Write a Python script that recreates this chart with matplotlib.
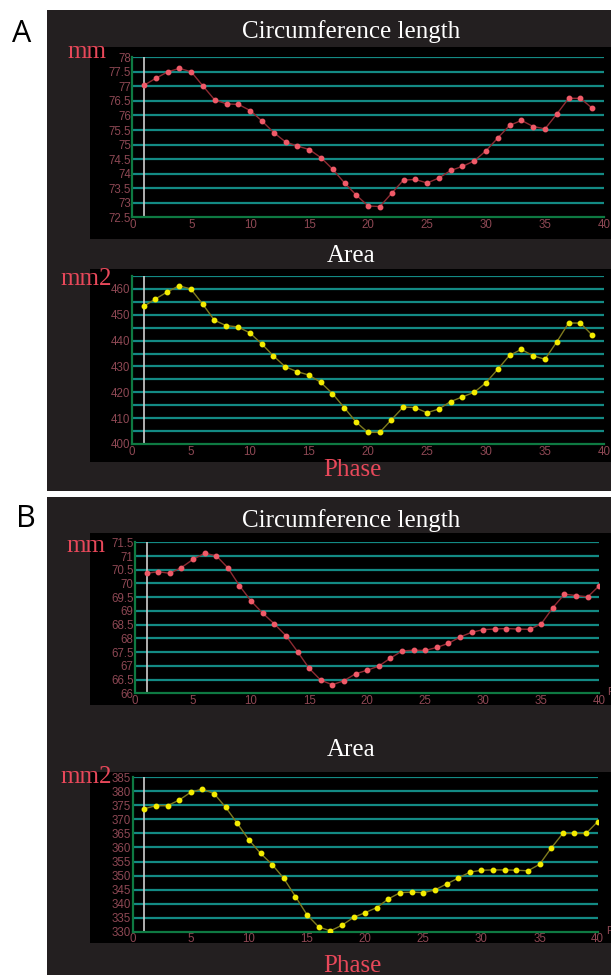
import matplotlib
matplotlib.use("Agg")
import matplotlib.pyplot as plt
from matplotlib.patches import Rectangle
import numpy as np

# ---------------- data ----------------
phase_A = list(range(1, 40))
circ_A = [77.04, 77.28, 77.50, 77.62, 77.50, 77.01, 76.53, 76.40, 76.38, 76.17,
          75.81, 75.41, 75.09, 74.95, 74.83, 74.55, 74.15, 73.68, 73.26, 72.89,
          72.87, 73.33, 73.78, 73.80, 73.68, 73.85, 74.11, 74.25, 74.44, 74.79,
          75.23, 75.66, 75.83, 75.62, 75.54, 76.05, 76.59, 76.59, 76.25]
area_A = [453.2, 456.1, 458.8, 461.2, 460.0, 454.2, 447.9, 445.8, 445.3, 443.0,
          438.8, 434.1, 429.9, 428.0, 426.7, 423.9, 419.5, 414.1, 408.5, 404.5,
          404.5, 409.4, 414.3, 414.1, 412.1, 413.5, 416.4, 418.2, 420.0, 423.7,
          428.9, 434.3, 436.6, 434.1, 432.8, 439.5, 446.8, 446.8, 442.1]

phase_B = list(range(1, 41))
circ_B = [70.37, 70.43, 70.37, 70.58, 70.88, 71.10, 71.01, 70.57, 69.92, 69.36,
          68.92, 68.53, 68.10, 67.52, 66.91, 66.48, 66.31, 66.46, 66.71, 66.84,
          66.99, 67.28, 67.54, 67.57, 67.56, 67.67, 67.82, 68.05, 68.22, 68.32,
          68.34, 68.36, 68.34, 68.33, 68.53, 69.12, 69.61, 69.56, 69.51, 69.92]
area_B = [373.8, 374.9, 374.9, 376.9, 379.7, 380.8, 379.2, 374.3, 368.6, 362.7,
          357.9, 353.9, 349.0, 342.5, 336.0, 331.7, 330.3, 332.3, 335.1, 336.8,
          338.6, 341.7, 343.9, 344.1, 343.9, 344.9, 347.0, 349.1, 351.2, 351.9,
          352.0, 352.0, 351.9, 351.7, 354.0, 359.8, 365.0, 365.0, 365.0, 369.2]

x_ticks = [0, 5, 10, 15, 20, 25, 30, 35, 40]
x_ticklabels = ["0", "5", "10", "15", "20", "25", "30", "35", "40"]

circA_yticks = [72.5, 73, 73.5, 74, 74.5, 75, 75.5, 76, 76.5, 77, 77.5, 78]
circA_ylabels = ["72.5", "73", "73.5", "74", "74.5", "75", "75.5", "76", "76.5", "77", "77.5", "78"]
areaA_yticks = [400, 410, 420, 430, 440, 450, 460]
areaA_ylabels = ["400", "410", "420", "430", "440", "450", "460"]
circB_yticks = [66, 66.5, 67, 67.5, 68, 68.5, 69, 69.5, 70, 70.5, 71, 71.5]
circB_ylabels = ["66", "66.5", "67", "67.5", "68", "68.5", "69", "69.5", "70", "70.5", "71", "71.5"]
areaB_yticks = [330, 335, 340, 345, 350, 355, 360, 365, 370, 375, 380, 385]
areaB_ylabels = ["330", "335", "340", "345", "350", "355", "360", "365", "370", "375", "380", "385"]

cursor_phase = 1

# ---------------- style ----------------
W, H = 611, 975
DARK = "#231f20"
GRID = "#138a84"
SPINE = "#0e7a42"
TICKC = "#8e4854"
LABELRED = "#e8485a"
CURSOR = "#cfcfcf"
SERIF = ["Liberation Serif", "DejaVu Serif"]
NARROW = ["Liberation Sans Narrow", "Liberation Sans", "DejaVu Sans"]

fig = plt.figure(figsize=(W / 100, H / 100), dpi=100, facecolor="white")


def rect_px(x0, y0, x1, y1, color):
    fig.add_artist(Rectangle((x0 / W, 1 - y1 / H), (x1 - x0) / W, (y1 - y0) / H,
                             transform=fig.transFigure, facecolor=color,
                             edgecolor="none", zorder=0))


def text_px(x, y, s, **kw):
    fig.text(x / W, 1 - y / H, s, **kw)


def make_axes(box, xlim, ylim, yticks, ylabels, grid_vals, xs, ys,
              line_c, mk_c):
    x0, y0, x1, y1 = box
    ax = fig.add_axes([x0 / W, 1 - y1 / H, (x1 - x0) / W, (y1 - y0) / H])
    ax.set_facecolor("none")
    ax.set_xlim(*xlim)
    ax.set_ylim(*ylim)
    for g in grid_vals:
        ax.axhline(g, color=GRID, lw=1.6, zorder=1)
    for side in ["top", "right"]:
        ax.spines[side].set_visible(False)
    for side in ["left", "bottom"]:
        ax.spines[side].set_color(SPINE)
        ax.spines[side].set_linewidth(1.6)
    ax.axvline(cursor_phase, color=CURSOR, lw=1.2, zorder=2)
    ax.plot(xs, ys, color=line_c, lw=1.0, marker="o", ms=3.2,
            mfc=mk_c, mec=mk_c, zorder=3)
    ax.set_xticks(x_ticks)
    ax.set_xticklabels(x_ticklabels)
    ax.set_yticks(yticks)
    ax.set_yticklabels(ylabels)
    ax.tick_params(length=0, colors=TICKC, labelsize=8.3)
    ax.tick_params(axis="x", pad=1.2)
    ax.tick_params(axis="y", pad=1.0)
    for lab in ax.get_xticklabels() + ax.get_yticklabels():
        lab.set_family(NARROW)
    return ax


# panel backgrounds
rect_px(47, 10, 611, 490.5, DARK)
rect_px(47, 497, 611, 975, DARK)
# black plot regions
rect_px(90, 47, 611, 239, "black")
rect_px(90, 269, 611, 462, "black")
rect_px(90, 533, 611, 705, "black")
rect_px(90, 772, 611, 943, "black")

RED_LINE, RED_MK = "#8e2b33", "#f05a68"
YEL_LINE, YEL_MK = "#7e7a1e", "#f4ec00"

make_axes((132.3, 57.3, 604, 217.3), (0, 40), (72.5, 78), circA_yticks, circA_ylabels,
          np.arange(73, 78.01, 0.5), phase_A, circ_A, RED_LINE, RED_MK)
make_axes((131.7, 276, 604, 444), (0, 40), (400, 465), areaA_yticks, areaA_ylabels,
          np.arange(405, 465.1, 5), phase_A, area_A, YEL_LINE, YEL_MK)
make_axes((135, 542.3, 599.3, 693.3), (0, 40), (66, 71.5), circB_yticks, circB_ylabels,
          np.arange(66.5, 71.51, 0.5), phase_B, circ_B, RED_LINE, RED_MK)
make_axes((132.7, 777.3, 597.7, 931.7), (0, 40), (330, 385), areaB_yticks, areaB_ylabels,
          np.arange(335, 385.1, 5), phase_B, area_B, YEL_LINE, YEL_MK)

# panel letters
text_px(12, 42, "A", fontsize=22, family=["Open Sans", "DejaVu Sans"], color="black",
        va="baseline", ha="left")
text_px(16, 527, "B", fontsize=22, family=["Open Sans", "DejaVu Sans"], color="black",
        va="baseline", ha="left")

# titles
for y, s in [(38, "Circumference length"), (262, "Area"),
             (527.5, "Circumference length"), (756, "Area")]:
    text_px(351, y, s, fontsize=18, family=SERIF, color="white",
            ha="center", va="baseline")

# unit labels
text_px(67, 58.5, "mm", fontsize=18, family=SERIF, color=LABELRED, va="baseline")
text_px(60, 285, "mm2", fontsize=18, family=SERIF, color=LABELRED, va="baseline")
text_px(66, 552, "mm", fontsize=18, family=SERIF, color=LABELRED, va="baseline")
text_px(60, 783, "mm2", fontsize=18, family=SERIF, color=LABELRED, va="baseline")

# x labels
text_px(352, 476, "Phase", fontsize=18, family=SERIF, color=LABELRED,
        ha="center", va="baseline")
text_px(352, 972, "Phase", fontsize=18, family=SERIF, color=LABELRED,
        ha="center", va="baseline")

# cut-off inner axis labels at right edge
text_px(607, 695, "P", fontsize=8, family=NARROW, color=TICKC, va="baseline")
text_px(606, 934, "P", fontsize=8, family=NARROW, color=TICKC, va="baseline")

fig.savefig("out.png", dpi=100, facecolor="white")
